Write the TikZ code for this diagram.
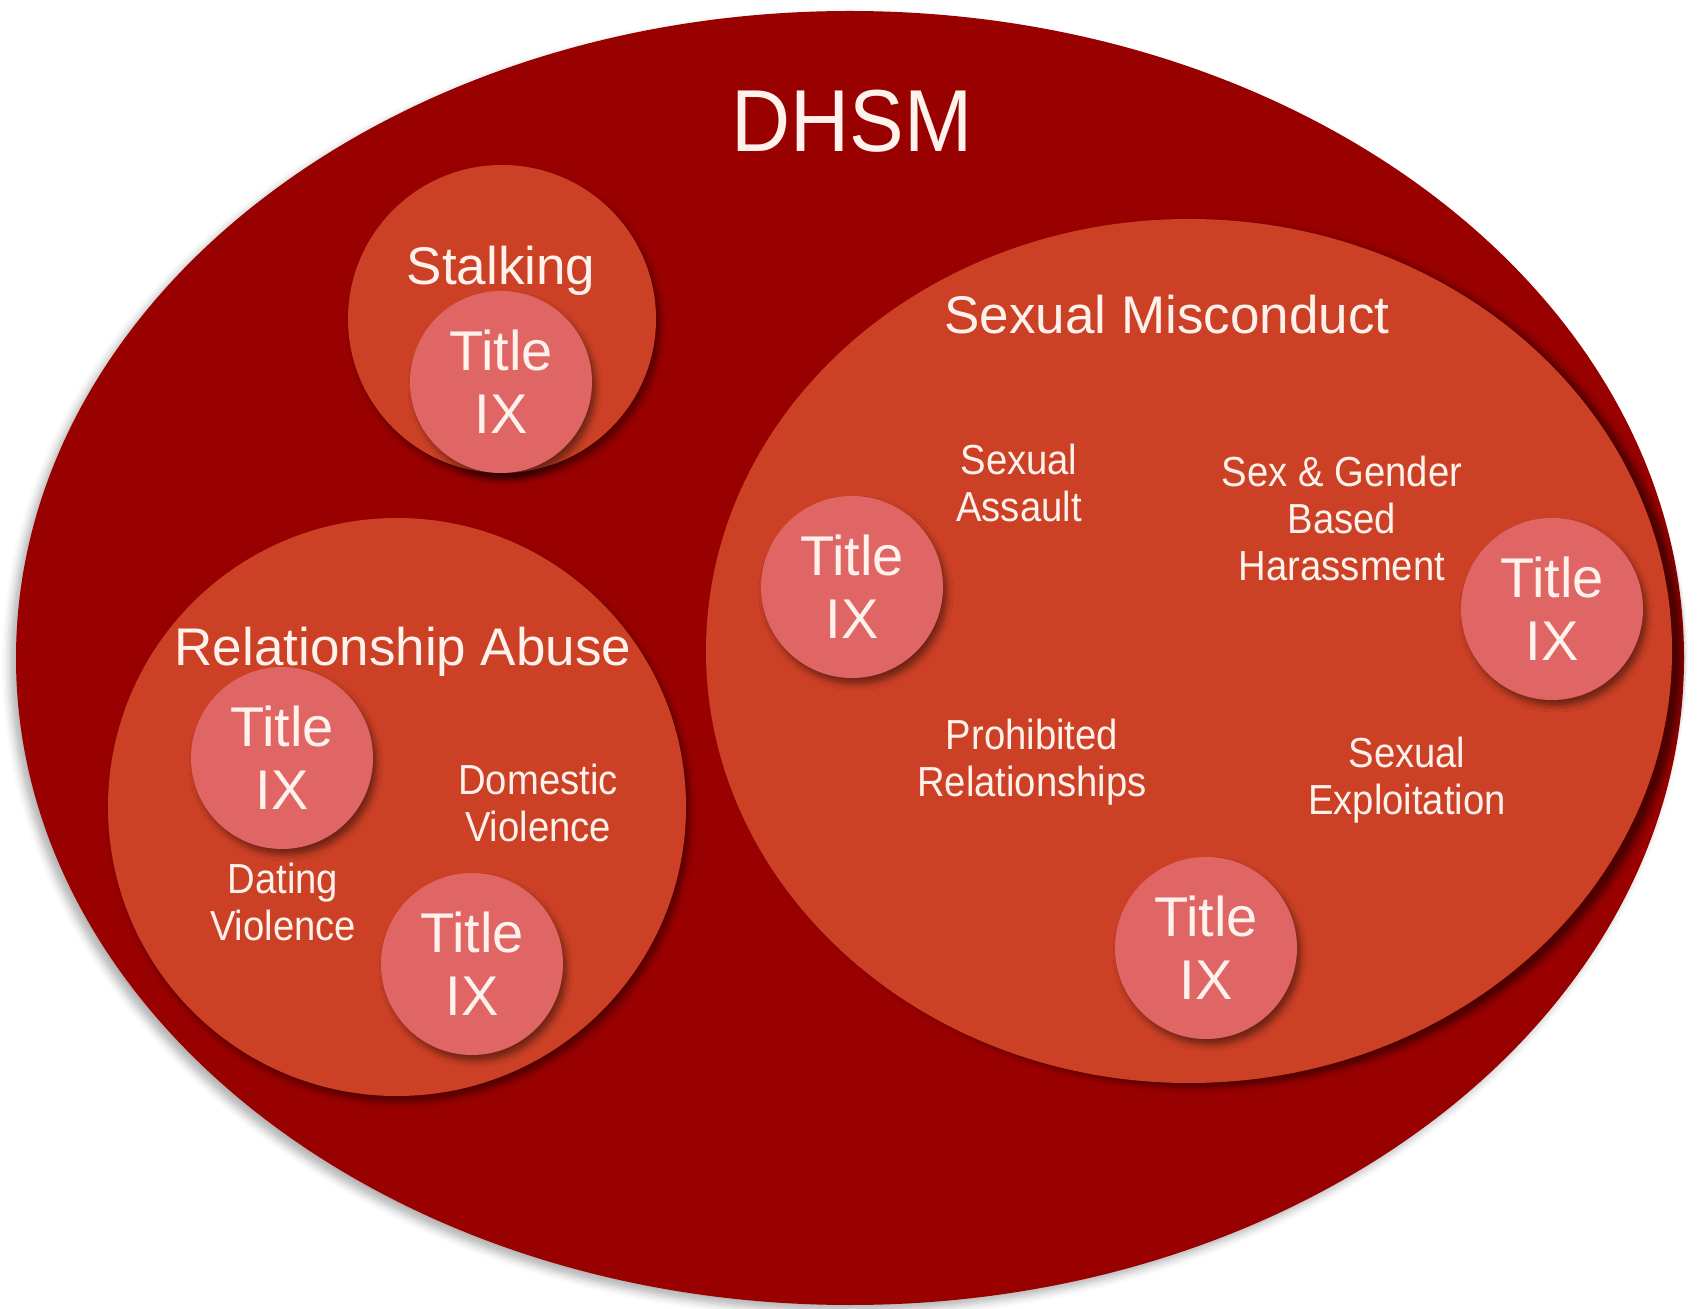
\documentclass[tikz,border=0pt]{standalone}
\usepackage{fontspec}
\setmainfont{Liberation Sans}
\newfontfamily\narrowfont[FakeStretch=0.91]{Liberation Sans}
\newfontfamily\dhsmfont[FakeStretch=0.93]{Liberation Sans}
\usetikzlibrary{shapes.geometric,shadows.blur}
\definecolor{outerred}{RGB}{153,0,0}
\definecolor{midred}{RGB}{204,65,37}
\definecolor{tixred}{RGB}{224,102,102}
\definecolor{txt}{RGB}{255,242,236}
\tikzset{
  sh/.style={blur shadow={shadow xshift=2pt,shadow yshift=-3pt,shadow opacity=45,shadow blur radius=3pt}},
  group/.style={circle,fill=midred,inner sep=0pt,sh},
  tix/.style={circle,fill=tixred,inner sep=0pt,minimum size=91pt,text=txt,align=center,
    font=\fontsize{28}{31.5}\selectfont,sh},
  lbl/.style={text=txt,align=center,font=\narrowfont\fontsize{21}{23.5}\selectfont},
  head/.style={text=txt,align=center,font=\fontsize{26.5}{30}\selectfont},
}
\begin{document}
\begin{tikzpicture}[x=0.5pt,y=-0.5pt]
\useasboundingbox (0,0) rectangle (1698,1309);
\node[ellipse,fill=outerred,minimum width=834pt,minimum height=647pt,inner sep=0pt,
  blur shadow={shadow xshift=-3pt,shadow yshift=-3pt,shadow opacity=30,shadow blur radius=4pt}] (dhsm) at (850,658) {};
\node[text=txt,font=\dhsmfont\fontsize{44}{50}\selectfont] (dhsmt) at (852,121) {DHSM};
% Stalking
\node[group,minimum size=154pt] (stalk) at (502,319) {};
\node[head] (stalkt) at (501,271) {Stalking};
\node[tix] (tix1) at (501,382) {Title\\IX};
% Relationship abuse
\node[group,minimum size=289pt] (ra) at (397,807) {};
\node[head] (rat) at (403,652) {Relationship Abuse};
\node[tix] (tix2) at (282,758) {Title\\IX};
\node[tix] (tix3) at (472,964) {Title\\IX};
\node[lbl] (dom) at (538,803) {Domestic\\Violence};
\node[lbl] (dat) at (283,902) {Dating\\Violence};
% Sexual misconduct
\node[ellipse,fill=midred,inner sep=0pt,minimum width=483pt,minimum height=432pt,
  blur shadow={shadow xshift=5pt,shadow yshift=-2pt,shadow opacity=50,shadow blur radius=3pt}] (sm) at (1189,651) {};
\node[head] (smt) at (1167,315) {Sexual Misconduct};
\node[lbl] (sa) at (1019,483) {Sexual\\Assault};
\node[lbl] (sg) at (1342,518) {Sex \& Gender\\Based\\Harassment};
\node[lbl] (pr) at (1032,762) {Prohibited\\Relationships};
\node[lbl] (se) at (1407,780) {Sexual\\Exploitation};
\node[tix] (tix4) at (852,587) {Title\\IX};
\node[tix] (tix5) at (1552,609) {Title\\IX};
\node[tix] (tix6) at (1206,948) {Title\\IX};
\end{tikzpicture}
\end{document}
